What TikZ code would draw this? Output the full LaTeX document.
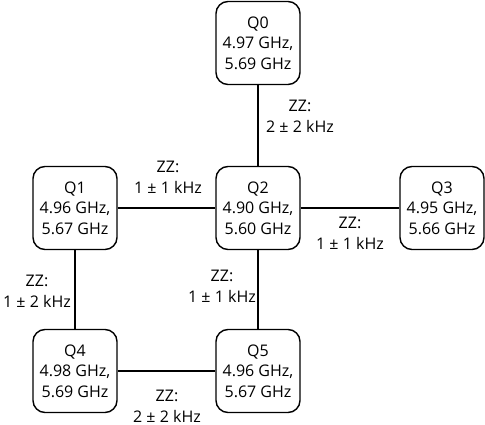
\documentclass[tikz,border=0pt]{standalone}
\usepackage{fontspec}
\setmainfont{Open Sans}
\usetikzlibrary{positioning}
\tikzset{
  every picture/.style={
    every path/.style={line width=1.4pt},
  }
}
\tikzset{qubit/.style = {draw, rounded corners=12pt, minimum width=84pt,
                         minimum height=83pt, align=center, inner sep=2pt,
                         font=\fontsize{16}{20.5}\selectfont}}
\tikzset{zz/.style = {align=center, inner sep=0pt,
                      font=\fontsize{16}{21}\selectfont}}

\begin{document}
\begin{tikzpicture}[x=1pt, y=-1pt]
        \useasboundingbox (0,0) rectangle (485,425);
        \node[qubit] (q0) at (258,43) {Q0\\4.97 GHz,\\5.69 GHz};
        \node[qubit] (q1) at (75,208) {Q1\\4.96 GHz,\\5.67 GHz};
        \node[qubit] (q2) at (258,208) {Q2\\4.90 GHz,\\5.60 GHz};
        \node[qubit] (q3) at (442,208) {Q3\\4.95 GHz,\\5.66 GHz};
        \node[qubit] (q4) at (75,371) {Q4\\4.98 GHz,\\5.69 GHz};
        \node[qubit] (q5) at (258,371) {Q5\\4.96 GHz,\\5.67 GHz};
        \draw (q0) -- (q2);
        \draw (q1) -- (q2);
        \draw (q2) -- (q3);
        \draw (q1) -- (q4);
        \draw (q2) -- (q5);
        \draw (q4) -- (q5);
        \node[zz] (zz02) at (300,116) {ZZ:\\2 ± 2 kHz};
        \node[zz] (zz12) at (168,177) {ZZ:\\1 ± 1 kHz};
        \node[zz] (zz23) at (350,233) {ZZ:\\1 ± 1 kHz};
        \node[zz] (zz14) at (37,291) {ZZ:\\1 ± 2 kHz};
        \node[zz] (zz25) at (222,286) {ZZ:\\1 ± 1 kHz};
        \node[zz] (zz45) at (167,406) {ZZ:\\2 ± 2 kHz};
      \end{tikzpicture}
\end{document}
